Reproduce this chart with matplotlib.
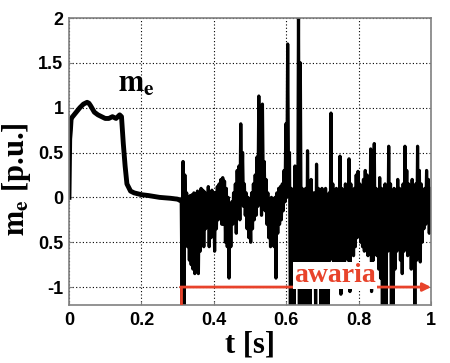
import numpy as np
import matplotlib
matplotlib.use("Agg")
from matplotlib import pyplot as plt

# torque before the fault (smooth part)
t_start = [0, 0.002, 0.004, 0.006, 0.01, 0.02, 0.03, 0.04, 0.05, 0.055, 0.06,
           0.07, 0.08, 0.09, 0.10, 0.11, 0.12, 0.13, 0.14, 0.145, 0.15, 0.155,
           0.16, 0.17, 0.18, 0.19, 0.20, 0.22, 0.25, 0.28, 0.30, 0.305]
me_start = [0, 0.65, 0.75, 0.88, 0.9, 0.95, 1.0, 1.04, 1.06, 1.05, 1.02,
            0.95, 0.92, 0.9, 0.88, 0.88, 0.9, 0.88, 0.92, 0.9, 0.6, 0.35,
            0.15, 0.07, 0.05, 0.04, 0.03, 0.02, 0.0, -0.01, -0.02, -0.03]

# after the fault: upper / lower swing of the oscillation, every 5 ms from 0.31 s
t_fault = 0.31
t_end = 1.0
me_hi = [-0.02, 0.40, 0.25, 0.05, 0.0, 0.02, 0.03, 0.05, 0.04, 0.07,
         0.02, 0.10, 0.08, 0.06, 0.03, 0.12, 0.05, 0.08, 0.0, 0.05,
         0.12, 0.15, 0.20, 0.22, 0.18, 0.10, 0.0, -0.10, -0.05, 0.05,
         0.15, 0.30, 0.35, 0.82, 0.50, 0.15, 0.05, 0.0, -0.10, 0.05,
         0.15, 0.25, 0.45, 1.13, 0.60, 1.04, 0.40, 0.20, 0.05, -0.05,
         0.0, -0.10, 0.0, 0.05, 0.10, 0.12, 0.15, 0.30, 0.82, 1.71,
         0.50, 0.10, 0.05, 0.35, 0.25, 2.10, 1.50, 0.10, 0.05, 0.10,
         0.52, 0.10, 0.20, 0.05, 0.05, 0.37, 0.10, 0.05, 0.10, 0.05,
         0.10, 0.0, 0.05, 0.94, 0.15, 0.05, 0.10, 0.0, 0.46, 0.10,
         0.05, 0.15, 0.10, 0.43, 0.15, 0.05, 0.10, 0.25, 0.29, 0.15,
         0.10, 0.20, 0.30, 0.25, 0.15, 0.54, 0.20, 0.60, 0.10, 0.05,
         0.22, 0.10, 0.05, 0.15, 0.10, 0.57, 0.15, 0.05, 0.10, 0.05,
         0.20, 0.10, 0.05, 0.15, 0.57, 0.30, 0.15, 0.10, 0.20, 0.05,
         0.15, 0.57, 0.30, 0.15, 0.05, 0.10, 0.30, 0.20, 0.10]
me_lo = [-1.3, -1.3, -0.30, -0.55, -0.70, -0.75, -0.80, -0.85, -0.78, -0.85,
         -0.60, -0.50, -0.55, -0.35, -0.30, -0.55, -0.45, -0.30, -0.60, -0.35,
         -0.25, -0.20, -0.30, -0.30, -0.50, -0.55, -0.90, -0.55, -0.30, -0.20,
         -0.40, -0.20, -0.25, 0.0, -0.10, -0.20, -0.35, -0.45, -0.50, -0.35,
         -0.25, -0.20, -0.10, 0.0, -0.20, 0.05, -0.15, -0.30, -0.45, -0.55,
         -0.50, -0.55, -0.90, -0.40, -0.30, -0.25, -0.15, -0.05, 0.0, 0.10,
         -1.3, -0.80, -1.3, -0.60, -0.80, -1.3, -0.60, -1.3, -0.80, -1.3,
         -0.65, -1.3, -0.80, -0.75, -1.3, -0.70, -0.75, -1.3, -0.80, -1.3,
         -0.75, -1.3, -0.70, -0.60, -0.75, -0.70, -0.80, -0.75, -1.08, -0.65,
         -0.80, -0.55, -0.70, -1.05, -0.60, -0.65, -0.55, -0.45, -0.40, -0.50,
         -0.55, -0.60, -0.50, -0.65, -0.60, -1.05, -0.70, -0.60, -0.65, -0.80,
         -0.90, -1.3, -0.70, -1.3, -0.60, -0.50, -1.3, -1.3, -0.80, -0.60,
         -0.50, -0.70, -0.85, -0.60, -0.45, -0.65, -0.50, -0.80, -0.60, -1.3,
         -0.70, -0.60, -0.72, -0.50, -0.35, -0.30, -0.20, -0.40, -0.30]

x_ticks = [0, 0.2, 0.4, 0.6, 0.8, 1]
x_tick_labels = ["0", "0.2", "0.4", "0.6", "0.8", "1"]
y_ticks = [2, 1.5, 1, 0.5, 0, -0.5, -1]
y_tick_labels = ["2", "1.5", "1", "0.5", "0", "0.5", "-1"]

red = "#e8432b"

plt.rcParams["mathtext.fontset"] = "stix"

fig = plt.figure(figsize=(4.5, 3.63), dpi=100)
ax = fig.add_axes([0.1533, 0.1598, 0.8047, 0.7906])

# oscillation: alternate between the upper and lower swing
me_noise = np.column_stack([me_hi, me_lo]).ravel()
t_noise = np.linspace(t_fault, t_end, len(me_noise))

ax.plot(t_start, me_start, color="black", lw=3.5, solid_joinstyle="round")
ax.plot(np.r_[t_start[-1], t_noise], np.r_[me_start[-1], me_noise],
        color="black", lw=2.3)

# fault marker
ax.plot([t_fault, t_fault], [-1.2, -1.0], color=red, lw=2, zorder=5)
ax.annotate("", xy=(t_end, -1.0), xytext=(t_fault - 0.002, -1.0),
            arrowprops=dict(arrowstyle="-|>", color=red, lw=2,
                            mutation_scale=12, shrinkA=0, shrinkB=0),
            zorder=5)
ax.text(0.735, -0.94, "awaria", color=red, fontsize=20, fontweight="bold",
        family="Liberation Serif", ha="center", va="baseline", zorder=6,
        bbox=dict(facecolor="white", edgecolor="none", pad=0.5))
ax.text(0.135, 1.18, r"$\mathbf{m_e}$", fontsize=22, va="baseline")

ax.set_xlim(0, 1)
ax.set_ylim(-1.2, 2)
ax.set_xticks(x_ticks)
ax.set_xticklabels(x_tick_labels)
ax.set_yticks(y_ticks)
ax.set_yticklabels(y_tick_labels)
for lab in ax.get_xticklabels() + ax.get_yticklabels():
    lab.set_fontweight("bold")
    lab.set_family("Liberation Sans")
    lab.set_fontsize(13)
ax.tick_params(direction="in", length=3, color="gray")
ax.tick_params(axis="x", pad=5)
ax.tick_params(axis="y", pad=4)
ax.grid(True, color="black", linestyle=(0, (1, 2)), lw=0.8)
for s in ax.spines.values():
    s.set_color("gray")
    s.set_linewidth(1.2)

ax.set_xlabel("t [s]", fontsize=22, fontweight="bold", family="Liberation Serif",
              labelpad=1)
ax.set_ylabel(r"$\mathbf{m_e}$ [p.u.]", fontsize=22, fontweight="bold",
              family="Liberation Serif")
ax.yaxis.set_label_coords(-0.1, 0.44)

fig.savefig("out.png", dpi=100)
